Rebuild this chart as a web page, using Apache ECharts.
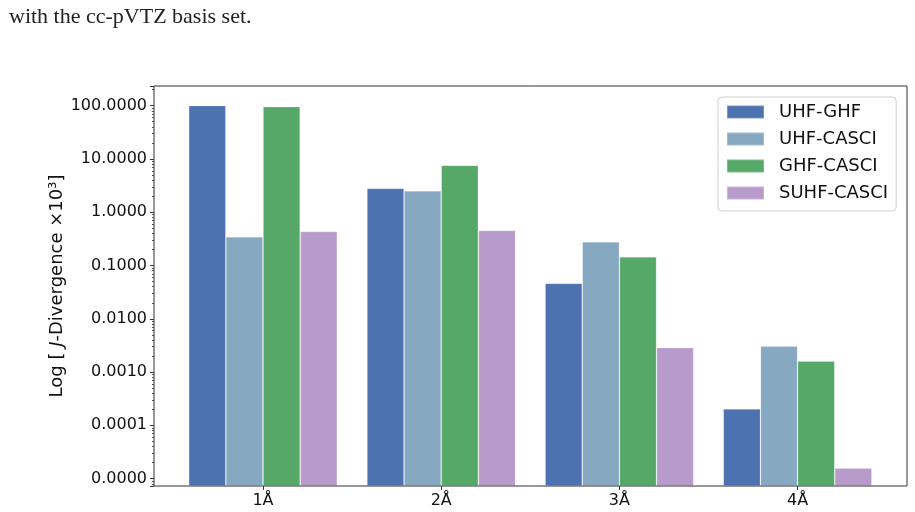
<!DOCTYPE html>
<html>
<head>
<meta charset="utf-8">
<script src="https://cdn.jsdelivr.net/npm/echarts@6/dist/echarts.min.js"></script>
<style>
  html, body { margin: 0; padding: 0; background: #fff; }
  #chart { width: 915px; height: 512px; }
</style>
</head>
<body>
<div id="chart"></div>
<script>
// distances (Å)
const categories = ['1Å', '2Å', '3Å', '4Å']
const seriesNames = ['UHF-GHF', 'UHF-CASCI', 'GHF-CASCI', 'SUHF-CASCI']
const colors = ['#4c72b0', '#86a8c1', '#55a868', '#b99bcb']

// J-Divergence x10^3
const uhfGhf = [101, 2.81, 0.0461, 0.000203]
const uhfCasci = [0.346, 2.53, 0.279, 0.00306]
const ghfCasci = [95.8, 7.59, 0.1456, 0.0016]
const suhfCasci = [0.437, 0.456, 0.00289, 0.0000158]

const yMin = Math.pow(10, -5.139)
const yMax = Math.pow(10, 2.37)

const font = 'DejaVu Sans'
const chart = echarts.init(document.getElementById('chart'))

const makeSeries = (name, data, i) => ({
    name,
    type: 'bar',
    data,
    xAxisIndex: 0,
    yAxisIndex: 0,
    barGap: '0%',
    barCategoryGap: '16.6%',
    itemStyle: {
        color: colors[i],
        borderColor: 'rgba(255,255,255,0.25)',
        borderWidth: 0.8
    }
})

chart.setOption({
    animation: false,
    title: {
        text: 'with the cc-pVTZ basis set.',
        left: 4,
        top: 1,
        textStyle: { fontFamily: 'Liberation Serif', fontWeight: 'normal', fontSize: 22, color: '#222' }
    },
    legend: {
        data: seriesNames,
        orient: 'vertical',
        left: 718,
        top: 97,
        icon: 'rect',
        itemWidth: 37,
        itemHeight: 13,
        itemGap: 9,
        padding: [6, 8, 9, 8],
        borderColor: '#d0d0d0',
        borderWidth: 1,
        borderRadius: 4,
        backgroundColor: '#fff',
        textStyle: { fontFamily: font, fontSize: 18, color: '#111', padding: [0, 0, 0, 10] }
    },
    grid: [
        // bars
        { left: 173.9, right: 28.3, top: 86, bottom: 26 },
        // frame
        { left: 154, right: 8, top: 86, bottom: 26, show: true, z: 5,
          borderColor: '#333', borderWidth: 1, backgroundColor: 'transparent' }
    ],
    xAxis: [
        {
            type: 'category',
            gridIndex: 0,
            data: categories,
            axisLine: { show: false },
            axisTick: { show: true, alignWithLabel: true, length: 4, lineStyle: { color: '#333' } },
            axisLabel: { fontFamily: font, fontSize: 16, color: '#111', margin: 7 }
        },
        { type: 'value', gridIndex: 1, show: false }
    ],
    yAxis: [
        {
            type: 'log',
            gridIndex: 0,
            min: yMin,
            max: yMax,
            startValue: yMin,
            offset: 19.9,
            name: '{n|Log [ }{i|J}{n|-Divergence ×10³]}',
            nameLocation: 'middle',
            nameGap: 88,
            nameMoveOverlap: false,
            nameTextStyle: {
                rich: {
                    n: { fontFamily: font, fontSize: 18, color: '#111' },
                    i: { fontFamily: font, fontSize: 18, fontStyle: 'italic', color: '#111' }
                }
            },
            axisLine: { show: false },
            axisTick: { show: true, length: 4, lineStyle: { color: '#333' } },
            minorTick: { show: true, splitNumber: 9, length: 2, lineStyle: { color: '#555' } },
            splitLine: { show: false },
            axisLabel: {
                fontFamily: font, fontSize: 16, color: '#111', margin: 7,
                showMinLabel: false, showMaxLabel: false,
                formatter: v => Number(v).toFixed(4)
            }
        },
        { type: 'value', gridIndex: 1, show: false }
    ],
    series: [
        makeSeries(seriesNames[0], uhfGhf, 0),
        makeSeries(seriesNames[1], uhfCasci, 1),
        makeSeries(seriesNames[2], ghfCasci, 2),
        makeSeries(seriesNames[3], suhfCasci, 3)
    ]
})
</script>
</body>
</html>
